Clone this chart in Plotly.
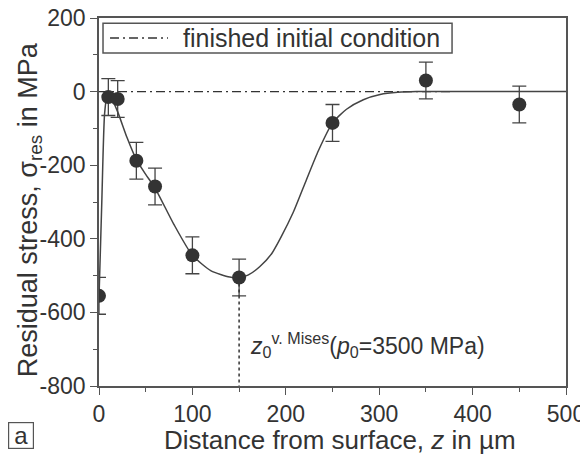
import plotly.graph_objects as go

# Measured points
meas_z = [0, 10, 20, 40, 60, 100, 150, 250, 350, 450]
meas_s = [-555, -15, -20, -188, -258, -445, -505, -85, 30, -35]
meas_err = [50, 50, 50, 50, 50, 50, 50, 50, 50, 50]

# Fitted curve
fit_z = [0, 3, 6, 9, 12, 20, 30, 40, 50, 60, 80, 100, 120, 140, 150, 160, 172, 185,
         195, 208, 222, 235, 250, 265, 283, 301, 320, 340, 400, 500]
fit_s = [-560, -300, -60, -8, -12, -55, -125, -185, -225, -262, -360, -445, -487, -504,
         -506, -498, -476, -440, -395, -328, -240, -160, -85, -48, -22, -8, -2, 0, 0, 0]

# Initial condition line
init_z = [0, 380]
init_s = [0, 0]

x_ticks = [0, 100, 200, 300, 400, 500]
y_ticks = [-800, -600, -400, -200, 0, 200]
y_ticktext = ["-800", "-600", "-400", "-200", "0", "200"]

FONT = "Liberation Sans, Arial, sans-serif"
DARK = "#333333"
AX = "#555555"
DASHDOT = "9px,4px,2px,4px"

fig = go.Figure()
fig.add_trace(go.Scatter(x=init_z, y=init_s, mode="lines",
                         line=dict(color=DARK, width=1.3, dash=DASHDOT),
                         showlegend=False, hoverinfo="skip"))
fig.add_trace(go.Scatter(x=fit_z, y=fit_s, mode="lines",
                         line=dict(color="#444444", width=1.5, shape="spline", smoothing=0.6),
                         showlegend=False, hoverinfo="skip"))
fig.add_trace(go.Scatter(x=meas_z, y=meas_s, mode="markers",
                         marker=dict(color=DARK, size=14),
                         error_y=dict(type="data", array=meas_err, color="#444444",
                                      thickness=1.3, width=7),
                         showlegend=False, cliponaxis=True))

# dotted vertical marker line
fig.add_shape(type="line", x0=150, x1=150, y0=-505, y1=-800, xref="x", yref="y",
              line=dict(color=DARK, width=1.5, dash="dot"))

fig.add_annotation(x=159, y=-688, xref="x", yref="y", xanchor="left", yanchor="middle",
                   showarrow=False,
                   text="<i>z</i><sub>0</sub><sup>v. Mises</sup>(<i>p</i><sub>0</sub>=3500 MPa)",
                   font=dict(family=FONT, size=23, color=DARK))

# legend box (drawn manually)
fig.add_shape(type="rect", xref="paper", yref="paper", x0=0.0086, x1=0.756,
              y0=0.905, y1=0.986, line=dict(color=AX, width=1.5), fillcolor="white")
fig.add_shape(type="line", xref="paper", yref="paper", x0=0.0236, x1=0.1478,
              y0=0.9457, y1=0.9457, line=dict(color=DARK, width=1.3, dash=DASHDOT))
fig.add_annotation(x=0.1756, y=0.9457, xref="paper", yref="paper", xanchor="left",
                   yanchor="middle", showarrow=False, text="finished initial condition",
                   font=dict(family=FONT, size=25, color=DARK))

# axis titles
fig.add_annotation(x=-0.148, y=0.48, xref="paper", yref="paper", showarrow=False,
                   xanchor="center", yanchor="middle",
                   textangle=-90, text="Residual stress, σ<sub>res</sub> in MPa",
                   font=dict(family=FONT, size=27, color=DARK))
fig.add_annotation(x=0.516, y=-0.148, xref="paper", yref="paper", showarrow=False,
                   xanchor="center", yanchor="middle",
                   text="Distance from surface, <i>z</i> in µm",
                   font=dict(family=FONT, size=26, color=DARK))

fig.add_annotation(x=-0.166, y=-0.134, xref="paper", yref="paper", showarrow=False,
                   xanchor="center", yanchor="middle",
                   text="a", font=dict(family=FONT, size=24, color=DARK),
                   width=22, height=23, borderpad=1,
                   bordercolor=AX, borderwidth=1.2, bgcolor="white")

# The page body adds a small offset, so the figure is shrunk and margins shifted
fig.update_layout(
    width=580, height=451,
    margin=dict(l=91, r=22, t=10, b=73),
    paper_bgcolor="white", plot_bgcolor="white",
    font=dict(family=FONT, size=23, color=DARK),
    showlegend=False,
    xaxis=dict(range=[0, 500], tickvals=x_ticks, automargin=False,
               ticklabeloverflow="allow",
               ticks="outside", ticklen=7, tickwidth=1.3, tickcolor=AX,
               showline=True, linecolor=AX, linewidth=1.5, mirror=True,
               showgrid=False, zeroline=False,
               minor=dict(tickvals=[50, 150, 250, 350, 450], ticks="outside",
                          ticklen=4, tickcolor=AX, tickwidth=1.2),
               tickfont=dict(size=23, color=DARK)),
    yaxis=dict(range=[-800, 200], tickvals=y_ticks, ticktext=y_ticktext, automargin=False,
               ticklabeloverflow="allow",
               ticks="outside", ticklen=7, tickwidth=1.3, tickcolor=AX,
               showline=True, linecolor=AX, linewidth=1.5, mirror=True,
               showgrid=False, zeroline=False,
               minor=dict(tickvals=[-700, -500, -300, -100, 100], ticks="outside",
                          ticklen=4, tickcolor=AX, tickwidth=1.2),
               tickfont=dict(size=23, color=DARK)),
)

fig.write_html("out.html")
